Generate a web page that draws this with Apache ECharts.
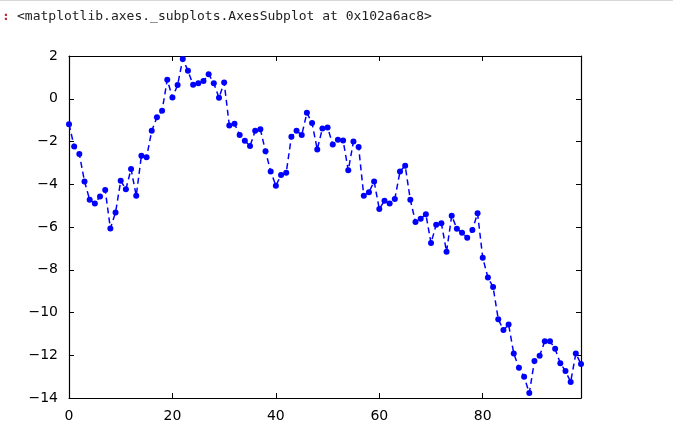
<!DOCTYPE html>
<html>
<head>
<meta charset="utf-8">
<script src="https://cdn.jsdelivr.net/npm/echarts@6/dist/echarts.min.js"></script>
<style>html,body{margin:0;padding:0;background:#fff}#c{width:673px;height:436px}</style>
</head>
<body>
<div id="c"></div>
<script>
const headerText = "<matplotlib.axes._subplots.AxesSubplot at 0x102a6ac8>";
const yValues = [
  -1.19, -2.23, -2.59, -3.87, -4.73, -4.90, -4.57, -4.27, -6.07, -5.32,
  -3.84, -4.23, -3.29, -4.54, -2.67, -2.74, -1.50, -0.87, -0.56, 0.89,
  0.06, 0.64, 1.86, 1.31, 0.65, 0.72, 0.83, 1.15, 0.72, 0.05,
  0.76, -1.25, -1.17, -1.70, -1.96, -2.21, -1.50, -1.43, -2.46, -3.40,
  -4.07, -3.57, -3.46, -1.78, -1.50, -1.70, -0.66, -1.14, -2.37, -1.39,
  -1.34, -2.14, -1.92, -1.95, -3.35, -2.00, -2.26, -4.54, -4.37, -3.87,
  -5.16, -4.77, -4.90, -4.69, -3.40, -3.13, -4.73, -5.77, -5.61, -5.40,
  -6.75, -5.89, -5.82, -7.16, -5.47, -6.08, -6.27, -6.50, -6.14, -5.36,
  -7.44, -8.36, -8.81, -10.31, -10.82, -10.56, -11.92, -12.58, -13.01, -13.77,
  -12.27, -12.02, -11.34, -11.34, -11.70, -12.38, -12.74, -13.25, -11.92, -12.41
];
const xTicks = [0, 20, 40, 60, 80];
const yTicks = [2, 0, -2, -4, -6, -8, -10, -12, -14];

const chart = echarts.init(document.getElementById('c'), null, {renderer: 'canvas'});
const fmt = v => String(v).replace('-', '\u2212');
const labelStyle = {color: '#000', fontFamily: 'DejaVu Sans', fontSize: 14};
const tick = {show: true, inside: true, length: 5, lineStyle: {color: '#000', width: 1}};
const line = {show: true, onZero: false, lineStyle: {color: '#000', width: 1.2}};
chart.setOption({
  animation: false,
  backgroundColor: '#fff',
  graphic: [
    {type: 'rect', shape: {x: 0, y: 0, width: 673, height: 1}, style: {fill: '#d8d8d8'}},
    {type: 'text', left: 2, top: 10, style: {text: ':', fill: '#c03030', font: 'bold 13px "DejaVu Sans Mono"'}},
    {type: 'text', left: 17, top: 10, style: {text: headerText, fill: '#222', font: '13px "DejaVu Sans Mono"'}}
  ],
  grid: {left: 69, right: 92, top: 56, bottom: 38, containLabel: false},
  xAxis: [
    {type: 'value', position: 'bottom', min: 0, max: 99, interval: 20,
     axisLine: line, axisTick: tick, splitLine: {show: false},
     axisLabel: Object.assign({margin: 11, showMaxLabel: false, formatter: v => xTicks.includes(v) ? fmt(v) : ''}, labelStyle)},
    {type: 'value', position: 'top', min: 0, max: 99, interval: 20,
     axisLine: line, axisTick: tick, splitLine: {show: false}, axisLabel: {show: false}}
  ],
  yAxis: [
    {type: 'value', position: 'left', min: -14, max: 2, interval: 2,
     axisLine: line, axisTick: tick, splitLine: {show: false},
     axisLabel: Object.assign({margin: 11, formatter: v => yTicks.includes(v) ? fmt(v) : ''}, labelStyle)},
    {type: 'value', position: 'right', min: -14, max: 2, interval: 2,
     axisLine: line, axisTick: tick, splitLine: {show: false}, axisLabel: {show: false}}
  ],
  series: [{
    type: 'line',
    xAxisIndex: 0, yAxisIndex: 0,
    data: yValues.map((v, i) => [i, v]),
    symbol: 'circle', symbolSize: 6,
    itemStyle: {color: '#0000ff', borderWidth: 0},
    lineStyle: {color: '#0000ff', width: 1.5, type: [6, 4]},
    clip: true
  }]
});
</script>
</body>
</html>
